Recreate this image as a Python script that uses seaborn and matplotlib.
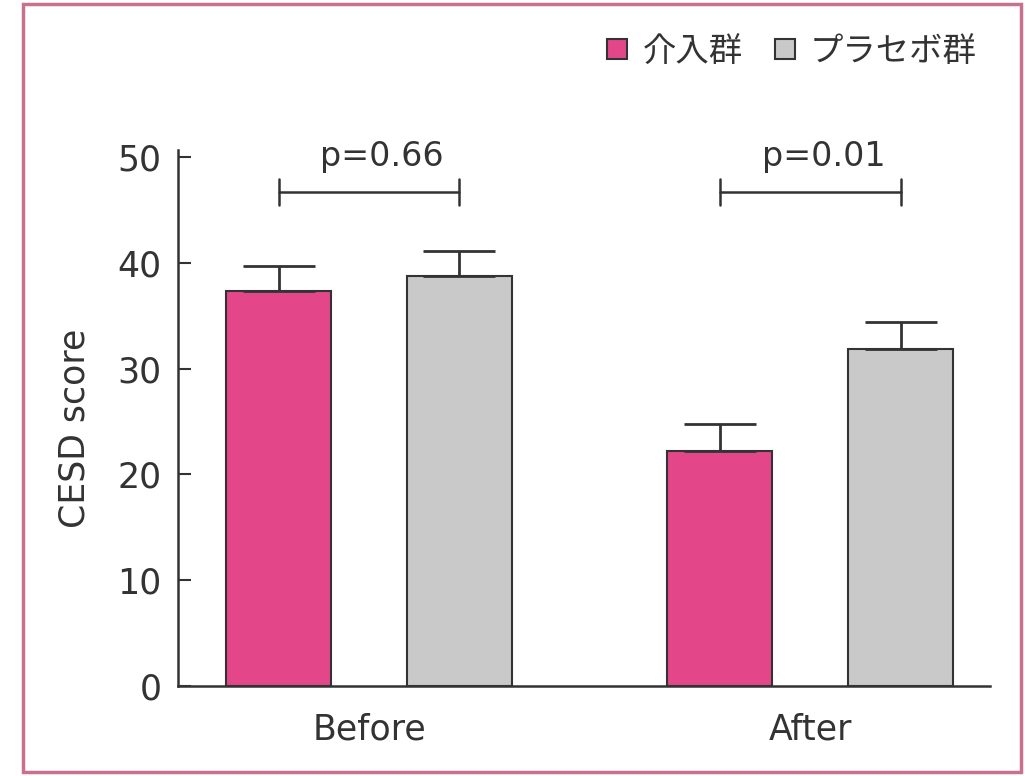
import numpy as np
import pandas as pd
import seaborn as sns
import matplotlib
matplotlib.use("Agg")
import matplotlib.pyplot as plt
from matplotlib.lines import Line2D
from matplotlib.patches import Rectangle

# data
periods = ["Before", "After"]
groups = ["介入群", "プラセボ群"]
intervention_mean = [37.3, 22.2]
intervention_err = [2.4, 2.6]
placebo_mean = [38.8, 31.9]
placebo_err = [2.3, 2.5]
p_labels = ["p=0.66", "p=0.01"]

pink = "#e3478a"
grey = "#c9c9c9"
ink = "#333333"

sns.set_style("ticks")
plt.rcParams['font.family'] = ['DejaVu Sans', 'Noto Sans CJK JP']
plt.rcParams['text.color'] = ink
plt.rcParams['axes.labelcolor'] = ink
plt.rcParams['xtick.color'] = ink
plt.rcParams['ytick.color'] = ink

df = pd.DataFrame({
    "period": periods * 2,
    "group": [groups[0]] * 2 + [groups[1]] * 2,
    "score": intervention_mean + placebo_mean,
})
errs = {groups[0]: intervention_err, groups[1]: placebo_err}

fig = plt.figure(figsize=(10.25, 7.76), dpi=100)
ax = fig.add_axes([0.1737, 0.116, 0.966 - 0.1737, 0.691])

sns.barplot(data=df, x="period", y="score", hue="group", order=periods,
            hue_order=groups, palette=[pink, grey], width=0.82, gap=0.42,
            saturation=1, edgecolor=ink, linewidth=1.5, ax=ax, legend=False)

# upward-only error bars + brackets
centers = {}
for cont, g in zip(ax.containers, groups):
    xs = [b.get_x() + b.get_width() / 2 for b in cont]
    ys = [b.get_height() for b in cont]
    centers[g] = xs
    ax.errorbar(xs, ys, yerr=[np.zeros(len(ys)), errs[g]], fmt="none",
                ecolor=ink, elinewidth=2, capsize=26, capthick=2, zorder=1)

for i, lab in enumerate(p_labels):
    x0, x1 = centers[groups[0]][i], centers[groups[1]][i]
    yb = 46.7
    ax.plot([x0, x1], [yb, yb], color=ink, lw=1.8, clip_on=False)
    for xe in (x0, x1):
        ax.plot([xe, xe], [yb - 1.25, yb + 1.25], color=ink, lw=1.8, clip_on=False)
    ax.text((x0 + x1) / 2 + 0.03, 49.2, lab, ha="center", va="baseline",
            fontsize=24, clip_on=False)

ax.set_xlim(-0.433, 1.408)
ax.set_ylim(0, 50.7)
ax.set_yticks([0, 10, 20, 30, 40, 50])
ax.tick_params(axis="y", direction="in", length=9, width=1.5, pad=12, labelsize=25)
ax.tick_params(axis="x", length=0, pad=19, labelsize=25)
ax.set_xlabel("")
ax.set_ylabel("CESD score", fontsize=25)
ax.yaxis.set_label_coords(-0.106, 0.48)
sns.despine(ax=ax)
for s in ("left", "bottom"):
    ax.spines[s].set_linewidth(1.8)
    ax.spines[s].set_color(ink)

handles = [Line2D([], [], marker="s", linestyle="none", markersize=14,
                  markerfacecolor=c, markeredgecolor=ink, markeredgewidth=1.5)
           for c in (pink, grey)]
fig.legend(handles, groups, loc="center right", bbox_to_anchor=(0.953, 1 - 51 / 776),
           ncol=2, frameon=False, fontsize=24, handlelength=0.8, handletextpad=0.35,
           columnspacing=0.87, borderaxespad=0, borderpad=0)

fig.patches.append(Rectangle((0.0224, 0.005), 0.974, 0.99, transform=fig.transFigure,
                             fill=False, edgecolor="#c87090", lw=2.5))

fig.savefig("out.png", dpi=100)
